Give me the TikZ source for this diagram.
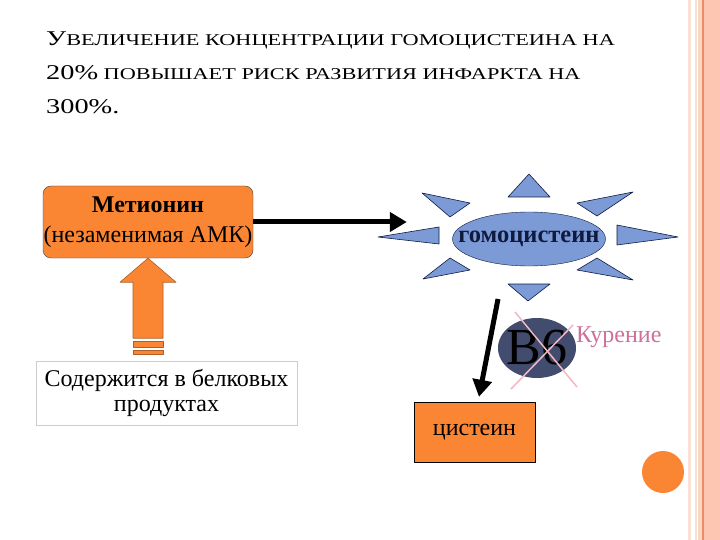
\documentclass[tikz,border=0pt]{standalone}
\usepackage{fontspec}
\setmainfont{Liberation Serif}
\newfontfamily\titlefont{Liberation Serif}[FakeStretch=1.35]
\usetikzlibrary{arrows.meta,shapes.geometric}

\definecolor{orng}{RGB}{250,134,52}
\definecolor{sunblue}{RGB}{124,155,214}
\definecolor{navy}{RGB}{16,26,64}
\definecolor{slate}{RGB}{66,76,110}
\definecolor{pinkx}{RGB}{242,184,194}
\definecolor{smokepink}{RGB}{206,112,154}
\definecolor{peach}{RGB}{252,198,178}
\definecolor{peachlt}{RGB}{248,224,210}
\definecolor{peachln}{RGB}{238,140,100}
\definecolor{greybd}{RGB}{205,205,205}

\begin{document}
\begin{tikzpicture}[x=1pt, y=-1pt, line join=round,
  fat/.style={line width=5pt, -{Triangle[length=17pt,width=19pt]}},
  ray/.style={draw=navy, line width=0.6pt, fill=sunblue},
  blk/.style={draw=orng!70!black, line width=0.6pt, fill=orng}]

  \fill[white] (0,0) rectangle (720,540);

  %% ════ 右侧边框 + 圆点 ════
  \fill[peachlt] (688,0) rectangle (691,540);
  \fill[peachlt] (695,0) rectangle (697,540);
  \fill[peachlt!60!peach] (698,0) rectangle (702,540);
  \fill[peachln] (702,0) rectangle (704,540);
  \fill[peach] (704,0) rectangle (720,540);
  \fill[orng] (663,472) circle (21pt);

  %% ════ 标题（假小型大写）════
  \node[anchor=base west,inner sep=0pt,font=\titlefont\fontsize{16.5}{20}\selectfont] (title1) at (46,46) {{\fontsize{21}{20}\selectfont У}ВЕЛИЧЕНИЕ КОНЦЕНТРАЦИИ ГОМОЦИСТЕИНА НА};
  \node[anchor=base west,inner sep=0pt,font=\titlefont\fontsize{16.5}{20}\selectfont] (title2) at (46,80) {{\fontsize{21}{20}\selectfont 20\%} ПОВЫШАЕТ РИСК РАЗВИТИЯ ИНФАРКТА НА};
  \node[anchor=base west,inner sep=0pt,font=\titlefont\fontsize{21}{20}\selectfont] (title3) at (46,114) {300\%.};

  %% ════ 方框 ════
  \node[draw=black!75,fill=orng,rounded corners=8pt,minimum width=210pt,minimum height=72pt,inner sep=0pt,align=center,font=\fontsize{24}{30}\selectfont] (met) at (148,222) {\textbf{Метионин}\\(незаменимая АМК)};
  \node[draw=greybd,fill=white,minimum width=261pt,minimum height=64pt,inner sep=0pt,align=center,font=\fontsize{24}{25}\selectfont] (food) at (166.5,393) {Содержится в белковых\\продуктах};
  \node[ellipse,draw=navy,fill=sunblue,minimum width=153pt,minimum height=54pt,inner sep=0pt,text=navy,font=\fontsize{24.5}{30}\selectfont\bfseries] (homo) at (529,239) {\makebox[0pt]{гомоцистеин}};
  \node[draw=black,fill=orng,minimum width=121pt,minimum height=60pt,inner sep=0pt,font=\fontsize{24}{30}\selectfont] (cys) at (474.5,432) {цистеин};
  \node[ellipse,fill=slate,minimum width=78pt,minimum height=60pt,inner sep=0pt,font=\fontsize{52}{52}\selectfont] (vit) at (537,348) {\makebox[0pt]{B6}};
  \node[anchor=base west,inner sep=0pt,text=smokepink,font=\fontsize{24}{30}\selectfont] (smoke) at (576,342) {Курение};

  %% ════ 太阳光芒（相对 homo 中心）════
  \begin{scope}[shift={(homo.center)}]
    \filldraw[ray] (-21,-42) -- (21,-42) -- (0,-65) -- cycle;
    \filldraw[ray] (-21,45) -- (21,45) -- (-1,62) -- cycle;
    \filldraw[ray] (-90,-12) -- (-90,5) -- (-151,-2) -- cycle;
    \filldraw[ray] (88,-14) -- (88,6) -- (149,-2) -- cycle;
    \filldraw[ray] (-107,-46) -- (-59,-36) -- (-79,-22) -- cycle;
    \filldraw[ray] (104,-47) -- (48,-36) -- (68,-23) -- cycle;
    \filldraw[ray] (-106,40) -- (-79,19) -- (-59,31) -- cycle;
    \filldraw[ray] (104,41) -- (68,19) -- (48,31) -- cycle;
  \end{scope}

  %% ════ 划掉 B6 ════
  \draw[pinkx,line width=1.5pt] ([shift={(-22,-36)}]vit.center) -- ([shift={(40,39)}]vit.center);
  \draw[pinkx,line width=1.5pt] ([shift={(36,-23)}]vit.center) -- ([shift={(-26,41)}]vit.center);

  %% ════ 箭头 ════
  \draw[fat,shorten >=45.5pt] (met.east) -- (met.east -| homo.west);
  \draw[fat] ([shift={(-31,60)}]homo.center) -- ([shift={(4.5,-5)}]cys.north);
  % 粗空心箭头 food -> met
  \filldraw[blk] (met.south) -- ++(28,24) -- ++(-13,0) -- ++(0,56) -- ++(-30,0) -- ++(0,-56) -- ++(-13,0) -- cycle;
  \filldraw[blk] ([shift={(-15,83)}]met.south) rectangle ++(30,6);
  \filldraw[blk] ([shift={(-15,92)}]met.south) rectangle ++(30,4);

  \pgfresetboundingbox
  \path[use as bounding box] (0,0) rectangle (720,540);
\end{tikzpicture}
\end{document}
